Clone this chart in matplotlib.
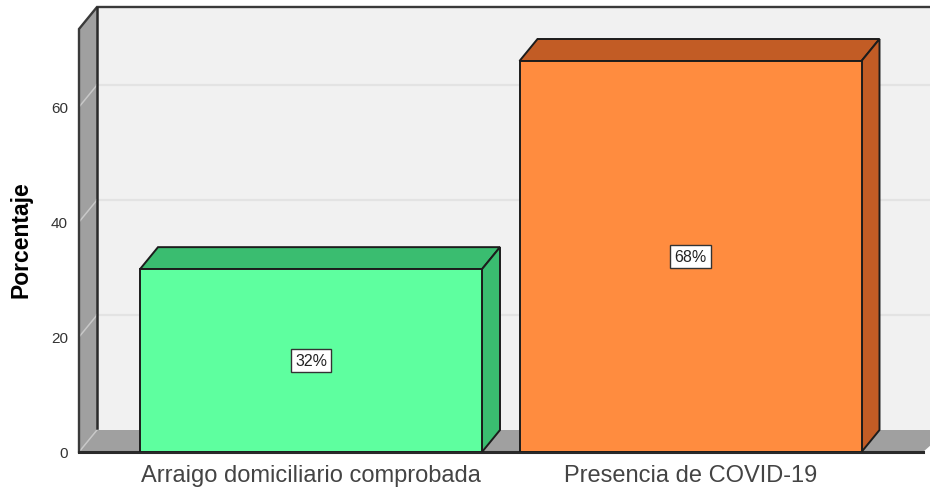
import matplotlib
matplotlib.use("Agg")
import matplotlib.pyplot as plt
from matplotlib.patches import Polygon

plt.rcParams["font.family"] = ["Liberation Sans", "DejaVu Sans"]

# Datos
categorias = ["Arraigo domiciliario comprobada", "Presencia de COVID-19"]
porcentajes = [31.8, 68.0]
colores_frente = ["#5eff9f", "#ff8c3f"]
colores_lado = ["#3abd70", "#c25c25"]
marcas_y = [0, 20, 40, 60]

BORDE = "#1c1c1c"
PARED = "#a0a0a0"
FONDO = "#f1f1f1"
REJILLA = "#e3e3e3"

# Escalas en pixeles
ancho_fig, alto_fig = 930, 489
izq, base, arriba = 79, 453, 8
px_y = 5.75        # pixeles por unidad de porcentaje
px_x = 379.5       # pixeles entre categorias
centro0 = 311      # pixel del centro de la primera barra
ancho_barra = 342 / px_x
prof_x = 18 / px_x
prof_y = 22 / px_y

fig = plt.figure(figsize=(ancho_fig / 100, alto_fig / 100), dpi=100, facecolor="white")
ax = fig.add_axes([izq / ancho_fig, (alto_fig - base) / alto_fig,
                   (ancho_fig - izq) / ancho_fig, (base - arriba) / alto_fig])
ax.set_xlim((izq - centro0) / px_x, (ancho_fig - centro0) / px_x)
ax.set_ylim(0, (base - arriba) / px_y)
ax.patch.set_visible(False)
for lado in ax.spines.values():
    lado.set_visible(False)

x0, x1 = ax.get_xlim()
y1 = ax.get_ylim()[1]
techo = y1 - prof_y

# Pared del fondo, pared izquierda y piso
ax.add_patch(Polygon([(x0 + prof_x, prof_y), (x1, prof_y), (x1, y1), (x0 + prof_x, y1)],
                     fc=FONDO, ec="none", zorder=1, clip_on=False))
ax.add_patch(Polygon([(x0, 0), (x0 + prof_x, prof_y), (x0 + prof_x, y1), (x0, techo)],
                     fc=PARED, ec="none", zorder=1, clip_on=False))
ax.add_patch(Polygon([(x0, 0), (x0 + prof_x, prof_y), (x1 + prof_x, prof_y), (x1 - 7 / px_x, 0)],
                     fc=PARED, ec="none", zorder=1, clip_on=True))

# Rejilla
for m in marcas_y:
    if m > 0:
        ax.plot([x0 + prof_x, x1], [m + prof_y, m + prof_y], color=REJILLA, lw=1.6, zorder=2)
    ax.plot([x0, x0 + prof_x], [m, m + prof_y], color="#c8c8c8", lw=1.1, zorder=2, clip_on=False)

# Bordes de las paredes
ax.plot([x0, x0, x0 + prof_x, x1], [0, techo, y1, y1], color="#3a3a3a", lw=1.7, zorder=3,
        clip_on=False, solid_joinstyle="miter")
ax.plot([x0 + prof_x, x0 + prof_x], [prof_y + 0.4, y1], color="#2a2a2a", lw=1.8, zorder=3)
ax.plot([x0, x1 - 7 / px_x], [0, 0], color="#2a2a2a", lw=2.2, zorder=3, clip_on=False)

# Barras con profundidad
for i, valor in enumerate(porcentajes):
    a = i - ancho_barra / 2
    b = i + ancho_barra / 2
    ax.add_patch(Polygon([(a, valor), (b, valor), (b + prof_x, valor + prof_y), (a + prof_x, valor + prof_y)],
                         fc=colores_lado[i], ec=BORDE, lw=1.4, zorder=4))
    ax.add_patch(Polygon([(b, 0), (b + prof_x, prof_y), (b + prof_x, valor + prof_y), (b, valor)],
                         fc=colores_lado[i], ec=BORDE, lw=1.4, zorder=4))
    ax.bar(i, valor, width=ancho_barra, color=colores_frente[i], edgecolor=BORDE, lw=1.4, zorder=5)
    ax.text(i, valor / 2, f"{valor:.0f}%", ha="center", va="center", fontsize=11.5, color="#222222", zorder=6,
            bbox=dict(boxstyle="square,pad=0.25", fc="white", ec="#333333", lw=1))

# Ejes
ax.set_xticks(range(len(categorias)), categorias)
ax.set_yticks(marcas_y)
ax.tick_params(axis="x", length=0, pad=9, labelsize=17, labelcolor="#444444")
ax.tick_params(axis="y", length=0, pad=8, labelsize=11, labelcolor="#333333")
fig.text(21 / ancho_fig, 1 - 240 / alto_fig, "Porcentaje", rotation=90, ha="center", va="center",
         fontsize=16.5, fontweight="bold", color="black")

fig.savefig("out.png", dpi=100)
